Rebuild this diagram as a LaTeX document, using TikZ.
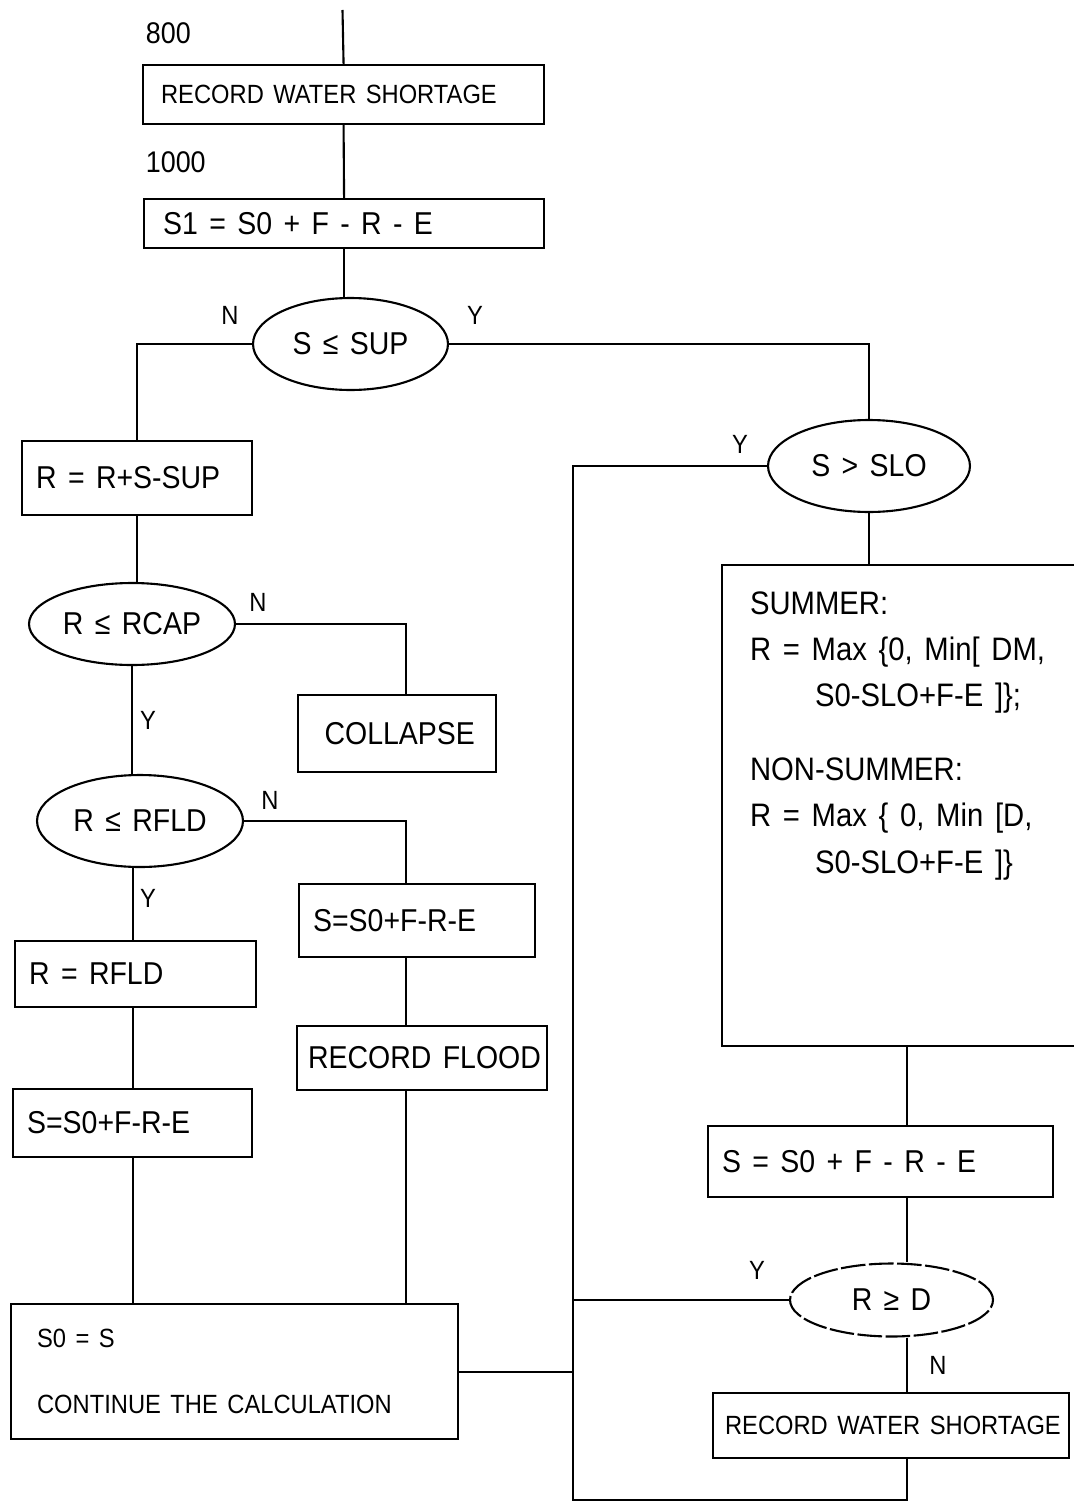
\documentclass[tikz,border=0pt]{standalone}
\usepackage{fontspec}
\setmainfont{Liberation Sans}[FakeStretch=0.9]
\usepackage{tikz}
\usetikzlibrary{shapes.geometric,positioning,calc}
\hyphenpenalty=10000
\tikzset{
  wide/.style={execute at begin node={\spaceskip=0.36em plus 0.1em\relax}},
  box/.style={draw,inner xsep=8pt,inner ysep=0pt,align=left,anchor=north west,
              font=\fontsize{18}{22}\selectfont,wide},
  test/.style={draw,ellipse,inner sep=0pt,font=\fontsize{18}{22}\selectfont,wide},
  small/.style={font=\fontsize{15}{18}\selectfont},
  yn/.style={font=\fontsize{15}{18}\selectfont},
  num/.style={font=\fontsize{17}{20}\selectfont,anchor=west},
}

\begin{document}
\begin{tikzpicture}[x=0.02cm,y=-0.02cm,line width=1.2pt]
\useasboundingbox (0,0) rectangle (1073,1504);
% helper points
\coordinate (in) at (342.5,10);
\coordinate (bus) at (573,1500);
\coordinate (lx) at (133,0);
\coordinate (mx) at (406,0);
\coordinate (rx) at (907,0);
% top of the chart
\node[num] (lbl800) at (139,33) {800};
\node[box,small,text width=7.46cm,minimum height=1.18cm] (rws1) at (142,64) {\hspace*{0.08cm}RECORD~WATER~SHORTAGE};
\node[num] (lbl1000) at (139,162) {1000};
\node[box,text width=7.44cm,minimum height=0.98cm] (sone) at (143,198) {\hspace*{0.1cm}S1 = S0 + F - R - E};
\node[test,minimum width=3.9cm,minimum height=1.84cm] (sup) at (350.5,344) {S ≤ SUP};
\node[yn] (supN) at (230,315) {N};
\node[yn] (supY) at (475,315) {Y};
% left branch
\node[box,text width=4.04cm,minimum height=1.48cm] (rsup) at (21,440) {R = R+S-SUP};
\node[test,minimum width=4.12cm,minimum height=1.64cm] (rcap) at (132,624) {R ≤ RCAP};
\node[yn] (rcapN) at (258,602) {N};
\node[yn] (rcapY) at (148,720) {Y};
\node[box,text width=3.40cm,minimum height=1.54cm] (collapse) at (297,694) {\hspace*{0.25cm}COLLAPSE};
\node[test,minimum width=4.12cm,minimum height=1.84cm] (rfldell) at (140,821) {R ≤ RFLD};
\node[yn] (rfldN) at (270,800) {N};
\node[yn] (rfldY) at (148,898) {Y};
\node[box,text width=4.16cm,minimum height=1.46cm] (sflood) at (298,883) {S=S0+F-R-E};
\node[box,inner xsep=4pt,text width=4.72cm,minimum height=1.28cm] (rflood) at (296,1025) {\hspace*{0.08cm}RECORD~FLOOD};
\node[box,text width=4.26cm,minimum height=1.32cm] (rfldbox) at (14,940) {R = RFLD};
\node[box,text width=4.22cm,minimum height=1.36cm] (sleft) at (12,1088) {S=S0+F-R-E};
\node[box,small,text width=8.38cm,minimum height=2.70cm] (cont) at (10,1303)
  {\hspace*{0.24cm}S0 = S\\[0.68cm]\hspace*{0.24cm}CONTINUE~THE~CALCULATION\\[-0.3cm]};
% right branch
\node[test,minimum width=4.04cm,minimum height=1.84cm] (slo) at (869,466) {S > SLO};
\node[yn] (sloY) at (740,444) {Y};
\node[anchor=north west,minimum width=7.02cm,minimum height=9.58cm] (summer) at (722,565) {};
\draw (summer.north east) -- (summer.north west) -- (summer.south west) -- (summer.south east);
\node[anchor=north west,inner sep=0pt,align=left,wide,font=\fontsize{18.5}{26.2}\selectfont] (sumtxt) at (749,591)
  {SUMMER:\\
   R = Max \{0, Min[ DM,\\
   \hspace*{1.3cm}S0-SLO+F-E ]\};\\[16pt]
   NON-SUMMER:\\
   R = Max \{ 0, Min [D,\\
   \hspace*{1.3cm}S0-SLO+F-E ]\}};
\node[box,text width=6.34cm,minimum height=1.42cm] (sbox) at (707,1125) {S = S0 + F - R - E};
\node[test,dash pattern=on 14pt off 2pt,minimum width=4.06cm,minimum height=1.46cm] (rged) at (891.5,1300) {R ≥ D};
\node[yn] (rgedY) at (757,1270) {Y};
\node[yn] (rgedN) at (938,1365) {N};
\node[box,small,inner xsep=4pt,text width=6.84cm,minimum height=1.30cm] (rws2) at (712,1392) {\hspace*{0.1cm}RECORD~WATER~SHORTAGE};
% connectors
\draw (in) -- (rws1.north);
\draw (rws1.south) -- (sone.north);
\draw (sone.south) -- (sone.south |- sup.north);
\draw (sup.west) -| (rsup.north);
\draw (sup.east) -| (slo.north);
\draw (rsup.south) -- (rsup.south |- rcap.north);
\draw (rcap.east) -| (mx |- collapse.north);
\draw (rcap.south) -- (rcap.south |- rfldell.north);
\draw (rfldell.east) -| (mx |- sflood.north);
\draw (mx |- sflood.south) -- (mx |- rflood.north);
\draw (mx |- rflood.south) -- (mx |- cont.north);
\draw (lx |- rfldell.south) -- (lx |- rfldbox.north);
\draw (lx |- rfldbox.south) -- (lx |- sleft.north);
\draw (lx |- sleft.south) -- (lx |- cont.north);
\draw (slo.south) -- (slo.south |- summer.north);
\draw (rx |- summer.south) -- (rx |- sbox.north);
\draw (rx |- sbox.south) -- (rx |- rged.north);
\draw (rx |- rged.south) -- (rx |- rws2.north);
\draw (slo.west) -| (bus) -| (rx |- rws2.south);
\draw (rged.west) -- (rged.west -| bus);
\draw (cont.east) -- (cont.east -| bus);
\end{tikzpicture}
\end{document}
